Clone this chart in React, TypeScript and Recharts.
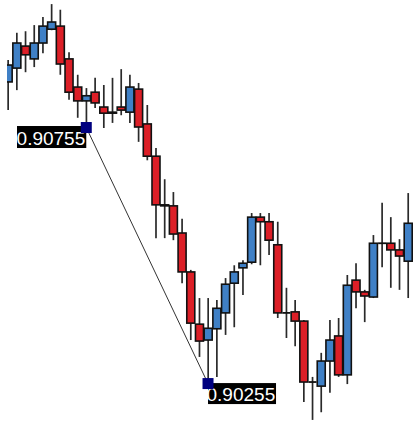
import React from 'react';
import { ComposedChart, Bar, XAxis, YAxis, ReferenceLine, ReferenceDot } from 'recharts';

const times = ['1','2','3','4','5','6','7','8','9','10','11','12','13','14','15','16','17','18','19','20','21','22','23','24','25','26','27','28','29','30','31','32','33','34','35','36','37','38','39','40','41','42','43','44','45','46','47'];

const opens = [0.90844,0.90871,0.90914,0.90889,0.90920,0.90947,0.90953,0.90889,0.90834,0.90807,0.90824,0.90795,0.90785,0.90795,0.90785,0.90830,0.90762,0.90699,0.90604,0.90602,0.90549,0.90473,0.90371,0.90340,0.90362,0.90393,0.90451,0.90481,0.90492,0.90580,0.90571,0.90526,0.90393,0.90395,0.90377,0.90258,0.90250,0.90299,0.90348,0.90272,0.90457,0.90434,0.90424,0.90529,0.90529,0.90516,0.90494];
const closes = [0.90877,0.90920,0.90897,0.90920,0.90953,0.90961,0.90879,0.90824,0.90807,0.90817,0.90803,0.90783,0.90783,0.90789,0.90834,0.90756,0.90699,0.90604,0.90602,0.90547,0.90473,0.90373,0.90338,0.90363,0.90402,0.90449,0.90473,0.90490,0.90580,0.90571,0.90535,0.90393,0.90392,0.90377,0.90258,0.90257,0.90299,0.90340,0.90272,0.90447,0.90434,0.90426,0.90529,0.90529,0.90516,0.90504,0.90568];
const highs = [0.90887,0.90940,0.90943,0.90955,0.90971,0.90996,0.90985,0.90902,0.90858,0.90832,0.90852,0.90838,0.90852,0.90869,0.90858,0.90842,0.90799,0.90715,0.90654,0.90629,0.90577,0.90477,0.90422,0.90422,0.90418,0.90461,0.90486,0.90496,0.90588,0.90588,0.90588,0.90571,0.90442,0.90418,0.90379,0.90268,0.90315,0.90379,0.90383,0.90467,0.90490,0.90438,0.90545,0.90608,0.90580,0.90537,0.90627];
const lows = [0.90789,0.90828,0.90863,0.90873,0.90900,0.90945,0.90858,0.90809,0.90774,0.90755,0.90793,0.90754,0.90764,0.90779,0.90764,0.90727,0.90691,0.90539,0.90539,0.90535,0.90451,0.90340,0.90307,0.90255,0.90268,0.90350,0.90365,0.90428,0.90488,0.90486,0.90506,0.90383,0.90344,0.90328,0.90219,0.90184,0.90199,0.90237,0.90268,0.90254,0.90402,0.90375,0.90422,0.90482,0.90442,0.90438,0.90422];

const lineStart = { t: '10', price: 0.90755, label: '0.90755' };
const lineEnd = { t: '24', price: 0.90255, label: '0.90255' };

const data = times.map((t, i) => ({ t, open: opens[i], close: closes[i], high: highs[i], low: lows[i] }));

const BLUE = '#3f80c6';
const RED = '#dc1f27';

const Candle = (props: any) => {
  const { x, y, width, height, payload } = props;
  if (!payload) return null;
  const cx = x + width / 2;
  const h = Math.abs(height);
  const top = height >= 0 ? y : y + height;
  const { open, close, high, low } = payload;
  const py = (p: number) => top + ((high - p) / (high - low)) * h;
  const yo = py(open);
  const yc = py(close);
  const bt = Math.min(yo, yc);
  const bh = Math.abs(yo - yc);
  const bw = 8;
  const fill = close > open ? BLUE : RED;
  return (
    <g>
      <line x1={cx} x2={cx} y1={top} y2={top + h} stroke="#2a2a2a" strokeWidth={1.7} />
      {bh < 0.8 ? (
        <line x1={cx - bw / 2} x2={cx + bw / 2} y1={bt} y2={bt} stroke="#111" strokeWidth={1.8} />
      ) : (
        <rect x={cx - bw / 2} y={bt} width={bw} height={bh} fill={fill} stroke="#111" strokeWidth={1.6} />
      )}
    </g>
  );
};

const MarkerLeft = (props: any) => {
  const { cx, cy } = props;
  const left = 17;
  return (
    <g>
      <defs>
        <clipPath id="clipL">
          <rect x={left} y={cy - 1.5} width={cx - left} height={22} />
        </clipPath>
      </defs>
      <rect x={left} y={cy - 1.5} width={cx - left} height={22} fill="#000" />
      <text x={cx - 1} y={cy + 17.5} textAnchor="end" fill="#fff" fontSize={19} fontFamily="'Liberation Sans', Arial, sans-serif" clipPath="url(#clipL)">{lineStart.label}</text>
      <rect x={cx - 5.5} y={cy - 5.5} width={11} height={11} fill="#00007f" />
    </g>
  );
};

const MarkerRight = (props: any) => {
  const { cx, cy } = props;
  return (
    <g>
      <rect x={cx} y={cy - 0.5} width={68} height={21} fill="#000" />
      <text x={cx - 1.5} y={cy + 17.5} textAnchor="start" fill="#fff" fontSize={19} fontFamily="'Liberation Sans', Arial, sans-serif">{lineEnd.label}</text>
      <rect x={cx - 5.5} y={cy - 5.5} width={11} height={11} fill="#00007f" />
    </g>
  );
};

export default function App() {
  return (
    <div style={{ position: 'absolute', left: 7, top: 0, width: 406, height: 423, overflow: 'hidden', background: '#fff' }}>
      <div style={{ position: 'absolute', left: -7, top: 0, width: 413, height: 423 }}>
        <ComposedChart width={413} height={423} data={data} margin={{ top: 0, right: 0.6, bottom: 0, left: 3.65 }} barCategoryGap={0}>
          <XAxis dataKey="t" type="category" hide padding={{ left: 0, right: 0 }} />
          <YAxis type="number" hide domain={[0.90178, 0.91004]} allowDataOverflow />
          <Bar dataKey={(d: any) => [d.low, d.high]} shape={<Candle />} isAnimationActive={false} />
          <ReferenceLine
            segment={[{ x: lineStart.t, y: lineStart.price }, { x: lineEnd.t, y: lineEnd.price }]}
            stroke="#333"
            strokeWidth={1}
            ifOverflow="visible"
          />
          <ReferenceDot x={lineStart.t} y={lineStart.price} shape={<MarkerLeft />} ifOverflow="visible" />
          <ReferenceDot x={lineEnd.t} y={lineEnd.price} shape={<MarkerRight />} ifOverflow="visible" />
        </ComposedChart>
      </div>
    </div>
  );
}
